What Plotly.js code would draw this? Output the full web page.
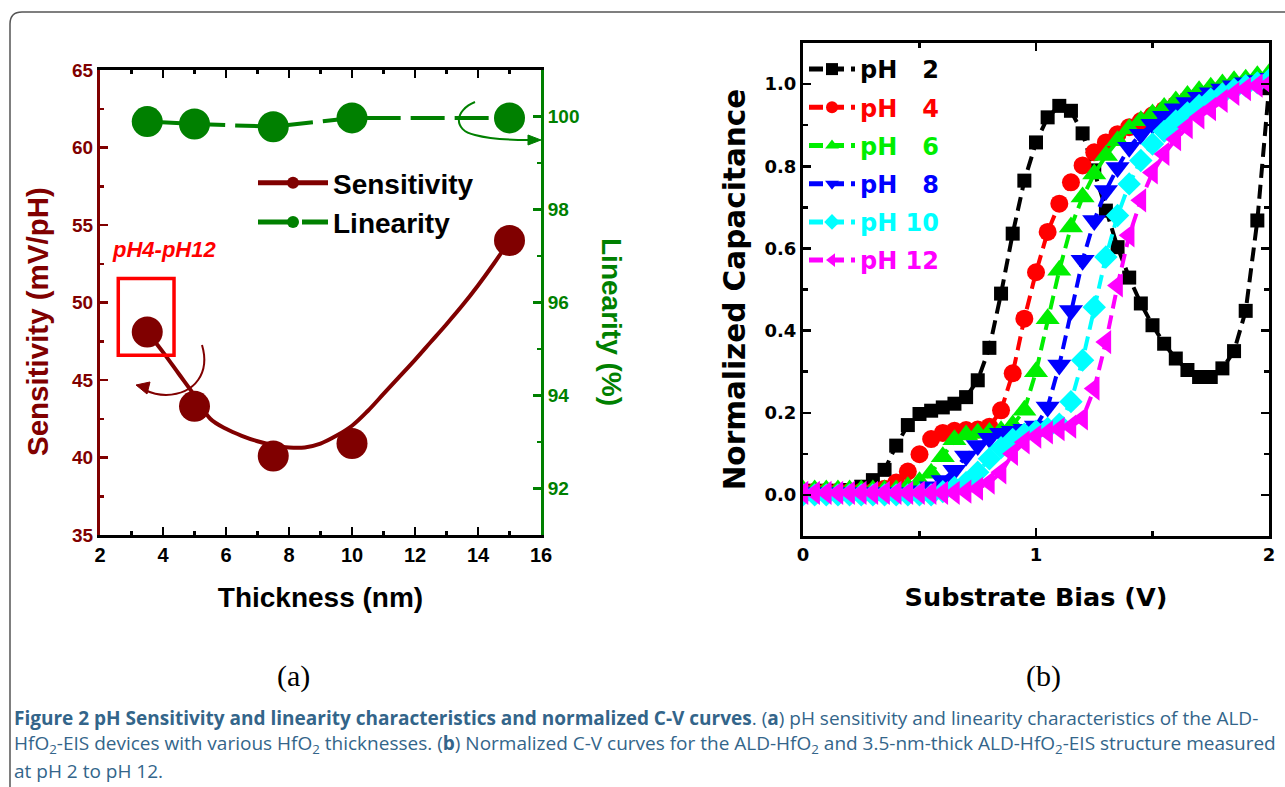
<!DOCTYPE html>
<html><head><meta charset="utf-8">
<script src="https://cdn.plot.ly/plotly-3.0.1.min.js"></script>
<style>html,body{margin:0;padding:0;background:#fff;} #chart{width:1285px;height:787px;}</style>
</head><body><div id="chart"></div>
<script>
// ---------- Panel (a): sensitivity & linearity vs HfO2 thickness ----------
const thickness   = [3.5, 5, 7.5, 10, 15];
const sensitivity = [48.1, 43.3, 40.1, 40.9, 54.0];
const linearity   = [99.89, 99.84, 99.78, 99.97, 99.97];
// fitted curve
const fitThickness   = [3.5, 4, 4.5, 5, 5.5, 6, 6.5, 7, 7.5, 8, 8.5, 9, 9.5, 10, 10.5, 11, 11.5, 12, 12.5, 13, 13.5, 14, 14.5, 15];
const fitSensitivity = [48.1, 46.8, 45.4, 44.0, 42.5, 41.85, 41.4, 41.05, 40.8, 40.65, 40.65, 40.9, 41.4, 42.05, 43.0, 44.1, 45.2, 46.3, 47.45, 48.6, 49.8, 51.1, 52.5, 54.0];

// ---------- Panel (b): normalized C-V curves ----------
const biasV = [0, 0.05, 0.1, 0.15, 0.2, 0.25, 0.3, 0.35, 0.4, 0.45, 0.5, 0.55, 0.6, 0.65, 0.7, 0.75, 0.8, 0.85, 0.9, 0.95, 1.0,
               1.05, 1.1, 1.15, 1.2, 1.25, 1.3, 1.35, 1.4, 1.45, 1.5, 1.55, 1.6, 1.65, 1.7, 1.75, 1.8, 1.85, 1.9, 1.95, 2.0];
const capPH2  = [0.01, 0.01, 0.01, 0.01, 0.012, 0.02, 0.036, 0.061, 0.12, 0.17, 0.197, 0.205, 0.213, 0.222, 0.238, 0.279, 0.358, 0.49, 0.636, 0.765, 0.858,
                 0.919, 0.947, 0.935, 0.88, 0.79, 0.692, 0.603, 0.529, 0.466, 0.413, 0.368, 0.332, 0.304, 0.287, 0.287, 0.308, 0.35, 0.448, 0.668, 0.99];
const capPH4  = [0.008, 0.008, 0.008, 0.008, 0.008, 0.008, 0.008, 0.015, 0.03, 0.057, 0.099, 0.136, 0.151, 0.156, 0.158, 0.159, 0.166, 0.206, 0.296, 0.429, 0.542,
                 0.64, 0.709, 0.761, 0.802, 0.834, 0.858, 0.878, 0.895, 0.91, 0.924, 0.937, 0.95, 0.962, 0.972, 0.981, 0.989, 0.996, 1.002, 1.008, 1.013];
const capPH6  = [0.012, 0.012, 0.012, 0.012, 0.012, 0.012, 0.012, 0.012, 0.012, 0.02, 0.032, 0.053, 0.093, 0.134, 0.146, 0.15, 0.152, 0.156, 0.17, 0.206, 0.3,
                 0.429, 0.547, 0.652, 0.725, 0.781, 0.826, 0.862, 0.891, 0.911, 0.927, 0.943, 0.959, 0.972, 0.984, 0.992, 1.0, 1.008, 1.012, 1.02, 1.025];
const capPH8  = [0.005, 0.005, 0.005, 0.005, 0.005, 0.005, 0.005, 0.005, 0.005, 0.005, 0.01, 0.02, 0.035, 0.06, 0.095, 0.12, 0.138, 0.15, 0.155, 0.16, 0.168,
                 0.214, 0.316, 0.449, 0.571, 0.668, 0.741, 0.797, 0.846, 0.878, 0.902, 0.922, 0.94, 0.955, 0.968, 0.979, 0.988, 0.996, 1.003, 1.009, 1.014];
const capPH10 = [0.0, 0.0, 0.0, 0.0, 0.0, 0.0, 0.0, 0.0, 0.0, 0.0, 0.0, 0.0, 0.008, 0.018, 0.03, 0.055, 0.088, 0.115, 0.135, 0.148, 0.155,
                 0.162, 0.172, 0.227, 0.328, 0.457, 0.579, 0.68, 0.757, 0.814, 0.854, 0.885, 0.91, 0.93, 0.948, 0.963, 0.976, 0.987, 0.996, 1.003, 1.01];
const capPH12 = [0.005, 0.005, 0.005, 0.005, 0.005, 0.005, 0.005, 0.005, 0.005, 0.005, 0.005, 0.005, 0.005, 0.005, 0.008, 0.015, 0.03, 0.055, 0.1, 0.128, 0.142,
                 0.152, 0.16, 0.166, 0.186, 0.259, 0.372, 0.51, 0.632, 0.717, 0.785, 0.83, 0.866, 0.895, 0.919, 0.939, 0.959, 0.976, 0.988, 0.996, 1.0];
const phValues = ['2', '4', '6', '8', '10', '12'];

// ---------- geometry helpers (page is 1285 x 787, no margins) ----------
const W = 1285, H = 787;
const fx = p => p / W;
const fy = p => 1 - p / H;
function pxPath(s) {
  return s.replace(/(-?\d+\.?\d*),(-?\d+\.?\d*)/g, (m, a, b) => fx(+a).toFixed(5) + ',' + fy(+b).toFixed(5));
}

const DR = '#800000', GR = '#008000';
const fontA = 'Liberation Sans, Arial, sans-serif';
const fontB = 'DejaVu Sans, Verdana, sans-serif';
const fontC = 'Open Sans, sans-serif';
const capColor = '#33658a';
const nb = '\u00a0';
function phName(v, color) {
  const pad = v.length === 1 ? nb + nb + nb : nb;
  return '<span style="color:' + color + '">pH' + pad + v + '</span>';
}

const cvColors  = ['#000000', '#ff0000', '#00ee00', '#0000ff', '#00ffff', '#ff00ff'];
const cvSymbols = ['square', 'circle', 'triangle-up', 'triangle-down', 'diamond', 'triangle-left'];
const cvSizes   = [14, 18, 21, 21, 18, 21];
const cvData    = [capPH2, capPH4, capPH6, capPH8, capPH10, capPH12];

const traces = [
  { x: fitThickness, y: fitSensitivity, xaxis: 'x', yaxis: 'y', type: 'scatter', mode: 'lines+markers',
    name: 'Sensitivity', legend: 'legend',
    line: { color: DR, width: 4, shape: 'spline', smoothing: 1 },
    marker: { color: DR, size: 13, maxdisplayed: 1 }, hoverinfo: 'skip' },
  { x: thickness, y: sensitivity, xaxis: 'x', yaxis: 'y', type: 'scatter', mode: 'markers',
    name: 'Sensitivity points', showlegend: false,
    marker: { color: DR, size: 31 } },
  { x: thickness, y: linearity, xaxis: 'x', yaxis: 'y2', type: 'scatter', mode: 'lines+markers',
    name: 'Linearity', legend: 'legend',
    line: { color: GR, width: 4, dash: '34px,10px' },
    marker: { color: GR, size: 31 } }
];
phValues.forEach((v, i) => {
  traces.push({
    x: biasV, y: cvData[i], xaxis: 'x2', yaxis: 'y3', type: 'scatter', mode: 'lines+markers',
    name: phName(v, cvColors[i]), legend: 'legend2', legendgroup: 'g' + i,
    line: { color: cvColors[i], width: 4, dash: '14px,7px' },
    marker: { color: cvColors[i], symbol: cvSymbols[i], size: cvSizes[i] }
  });
});

const tickA = (c, s) => ({ family: fontA, size: s, weight: 'bold', color: c });
const tickB = { family: fontB, size: 18, weight: 'bold', color: '#000' };

function note(text, px, py, font, extra) {
  return Object.assign({ text: text, xref: 'paper', yref: 'paper', x: fx(px), y: fy(py),
    xanchor: 'center', yanchor: 'middle', showarrow: false, font: font }, extra || {});
}

const captionLines = [
  '<b>Figure 2 pH Sensitivity and linearity characteristics and normalized C-V curves</b>. (<b>a</b>) pH sensitivity and linearity characteristics of the ALD-',
  'HfO<sub>2</sub>-EIS devices with various HfO<sub>2</sub> thicknesses. (<b>b</b>) Normalized C-V curves for the ALD-HfO<sub>2</sub> and 3.5-nm-thick ALD-HfO<sub>2</sub>-EIS structure measured',
  'at pH 2 to pH 12.'
];

const layout = {
  width: W, height: H,
  margin: { l: 0, r: 0, t: 0, b: 0 },
  paper_bgcolor: '#ffffff', plot_bgcolor: 'rgba(0,0,0,0)',
  font: { family: fontA, color: '#000' },
  showlegend: true,
  xaxis: {
    domain: [fx(100), fx(541)], anchor: 'y', range: [2, 16], tick0: 2, dtick: 2,
    ticks: 'inside', ticklen: 8, tickwidth: 2.5, tickcolor: '#000',
    minor: { dtick: 1, ticks: 'inside', ticklen: 4, tickwidth: 2.5, tickcolor: '#000' },
    showline: true, linecolor: '#000', linewidth: 3, mirror: 'ticks',
    showgrid: false, zeroline: false, tickfont: tickA('#000', 20),
    title: { text: 'Thickness (nm)', font: { family: fontA, size: 28, weight: 'bold', color: '#000' }, standoff: 23 }
  },
  yaxis: {
    domain: [fy(535), fy(70)], anchor: 'x', range: [35, 65], tick0: 35, dtick: 5,
    ticks: 'inside', ticklen: 8, tickwidth: 2.5, tickcolor: DR,
    minor: { dtick: 2.5, ticks: 'inside', ticklen: 4, tickwidth: 2.5, tickcolor: DR },
    showline: true, linecolor: DR, linewidth: 3,
    showgrid: false, zeroline: false, tickfont: tickA(DR, 19)
  },
  yaxis2: {
    overlaying: 'y', side: 'right', anchor: 'x', range: [91, 101], tick0: 92, dtick: 2,
    ticks: 'inside', ticklen: 8, tickwidth: 2.5, tickcolor: GR,
    minor: { dtick: 1, ticks: 'inside', ticklen: 4, tickwidth: 2.5, tickcolor: GR },
    showline: true, linecolor: GR, linewidth: 3,
    showgrid: false, zeroline: false, tickfont: tickA(GR, 19)
  },
  xaxis2: {
    domain: [fx(803), fx(1269)], anchor: 'y3', range: [0, 2], tick0: 0, dtick: 1,
    ticks: 'inside', ticklen: 8, tickwidth: 2.5, tickcolor: '#000',
    minor: { dtick: 0.5, ticks: 'inside', ticklen: 5, tickwidth: 2.5, tickcolor: '#000' },
    showline: true, linecolor: '#000', linewidth: 3, mirror: 'ticks',
    showgrid: false, zeroline: false, tickfont: tickB,
    title: { text: 'Substrate Bias (V)', font: { family: fontB, size: 25.5, weight: 'bold', color: '#000' }, standoff: 25 }
  },
  yaxis3: {
    domain: [fy(536), fy(43)], anchor: 'x2', range: [-0.1, 1.1], tick0: 0, dtick: 0.2, tickformat: '.1f',
    ticks: 'inside', ticklen: 8, tickwidth: 2.5, tickcolor: '#000',
    minor: { dtick: 0.1, ticks: 'inside', ticklen: 5, tickwidth: 2.5, tickcolor: '#000' },
    showline: true, linecolor: '#000', linewidth: 3, mirror: 'ticks',
    showgrid: false, zeroline: false, tickfont: tickB,
    title: { text: 'Normalized Capacitance', font: { family: fontB, size: 29.5, weight: 'bold', color: '#000' }, standoff: 11 }
  },
  legend: {
    x: fx(253), y: fy(158), xanchor: 'left', yanchor: 'top',
    bgcolor: 'rgba(0,0,0,0)', borderwidth: 0, itemsizing: 'constant', itemwidth: 70,
    font: { family: fontA, size: 28, weight: 'bold', color: '#000' }
  },
  legend2: {
    x: fx(804), y: fy(47), xanchor: 'left', yanchor: 'top',
    bgcolor: 'rgba(0,0,0,0)', borderwidth: 0, itemsizing: 'constant', itemwidth: 46,
    traceorder: 'grouped', tracegroupgap: 4,
    font: { family: fontB, size: 24, weight: 'bold', color: '#000' }
  },
  shapes: [
    // figure frame
    { type: 'path', xref: 'paper', yref: 'paper', path: pxPath('M10,787 L10,24 Q10,12 22,12 L1285,12'),
      line: { color: '#555', width: 1.5 } },
    // red box around the 3.5 nm point
    { type: 'rect', xref: 'x', yref: 'y', x0: 2.58, x1: 4.35, y0: 46.6, y1: 51.55,
      line: { color: '#ff0000', width: 3.5 } },
    // dark red curved arrow
    { type: 'path', xref: 'paper', yref: 'paper', path: pxPath('M202,345 C210,372 196,394 166,395 C158,395 151,393 145,390'),
      line: { color: DR, width: 2 } },
    { type: 'path', xref: 'paper', yref: 'paper', path: pxPath('M136,385 L150,382 L147,394 Z'),
      fillcolor: DR, line: { color: DR, width: 1 } },
    // green curved arrow
    { type: 'path', xref: 'paper', yref: 'paper', path: pxPath('M475,102 C455,110 452,130 475,135 C490,139 510,140 529,140'),
      line: { color: GR, width: 2 } },
    { type: 'path', xref: 'paper', yref: 'paper', path: pxPath('M541,140 L528,135 L528,145 Z'),
      fillcolor: GR, line: { color: GR, width: 1 } }
  ],
  annotations: [
    note('Sensitivity (mV/pH)', 37, 322, { family: fontA, size: 29.5, weight: 'bold', color: DR }, { textangle: -90 }),
    note('Linearity (%)', 612, 322, { family: fontA, size: 28, weight: 'bold', color: GR }, { textangle: 90 }),
    note('<i>pH4-pH12</i>', 164, 249, { family: fontA, size: 22, weight: 'bold', color: '#ff0000' }),
    note('(a)', 293, 676, { family: 'Liberation Serif, Times New Roman, serif', size: 30, color: '#000' }),
    note('(b)', 1043, 676, { family: 'Liberation Serif, Times New Roman, serif', size: 30, color: '#000' }),
    note(captionLines[0] + '<br>' + captionLines[1], 12, 731, { family: fontC, size: 19, color: capColor }, { xanchor: 'left', align: 'left' }),
    note(captionLines[2], 12, 771, { family: fontC, size: 19, color: capColor }, { xanchor: 'left', align: 'left' })
  ]
};

Plotly.newPlot('chart', traces, layout, { displayModeBar: false, staticPlot: true });
</script></body></html>
